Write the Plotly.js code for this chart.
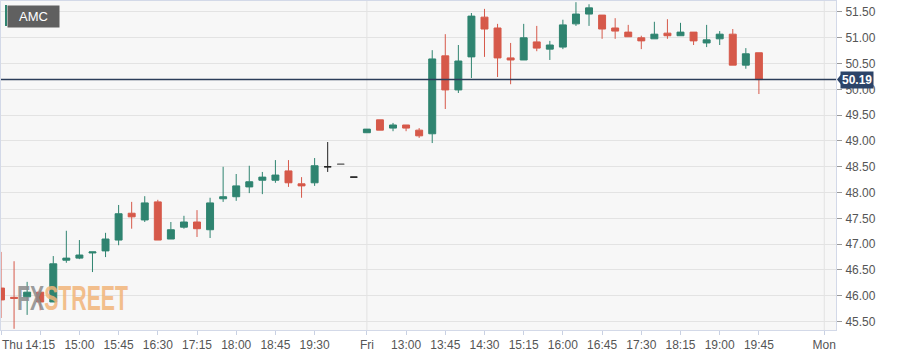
<!DOCTYPE html>
<html>
<head>
<meta charset="utf-8">
<script src="https://cdn.plot.ly/plotly-3.0.1.min.js"></script>
<style>html,body{margin:0;padding:0;background:#fff;}#chart{width:901px;height:356px;}</style>
</head>
<body>
<div id="chart"></div>
<script>
// 15-minute slot index of each candle (Thu 13:30 = 0, Fri session starts at 28)
const slots = [0,1,2,3,4,5,6,7,8,9,10,11,12,13,14,15,16,17,18,19,20,21,22,23,24,25,26,27,
  28,29,30,31,32,33,34,35,36,37,38,39,40,41,42,43,44,45,46,47,48,49,50,51,52,53,54,55,56,57,58];
const openP  = [46.15,45.97,45.98,46.07,45.88,46.69,46.73,46.83,46.87,47.08,47.60,47.47,47.82,47.10,47.33,47.43,47.28,47.88,47.92,48.11,48.24,48.24,48.42,48.17,48.19,48.50,48.55,48.30,
  49.16,49.41,49.25,49.31,49.21,49.14,50.65,49.99,50.63,51.40,51.19,50.61,50.57,50.92,50.78,50.82,51.27,51.46,51.44,51.19,51.11,51.00,50.98,51.09,51.04,51.11,50.90,50.98,51.07,50.47,50.71];
const highP  = [46.85,46.67,46.27,46.11,46.77,47.26,47.08,46.85,47.22,47.76,47.82,47.93,47.86,47.43,47.55,47.66,47.90,48.50,48.36,48.52,48.40,48.63,48.63,48.30,48.67,48.98,48.55,48.30,
  49.23,49.41,49.35,49.31,49.25,50.76,51.07,50.86,51.48,51.56,51.27,50.90,51.27,51.23,50.94,51.35,51.69,51.65,51.44,51.38,51.25,51.04,51.31,51.36,51.29,51.11,51.25,51.13,51.17,50.80,50.71];
const lowP   = [45.57,45.36,45.63,45.72,45.88,46.64,46.71,46.46,46.75,46.98,47.30,47.43,47.08,47.10,47.30,47.14,47.12,47.82,47.84,47.99,47.97,48.19,48.11,47.90,48.13,48.40,48.55,48.30,
  49.16,49.21,49.19,49.19,49.06,48.96,49.62,49.93,50.22,50.63,50.24,50.10,50.57,50.74,50.57,50.78,51.23,51.23,50.98,50.98,51.02,50.78,50.98,50.98,51.04,50.86,50.82,50.86,50.47,50.40,49.91];
const closeP = [45.92,45.95,46.07,45.88,46.62,46.73,46.79,46.85,47.10,47.59,47.53,47.80,47.08,47.28,47.43,47.30,47.80,47.92,48.13,48.21,48.30,48.34,48.19,48.13,48.52,48.50,48.55,48.30,
  49.23,49.21,49.31,49.25,49.10,50.59,49.99,50.55,51.42,51.17,50.61,50.57,51.00,50.80,50.86,51.25,51.46,51.58,51.17,51.13,51.02,50.94,51.07,51.04,51.11,50.94,50.96,51.07,50.47,50.69,50.19];
// flat (no-trade) candles drawn in neutral colours
const flatDark = [25, 27];
const flatGray = [26];
const lastPrice = 50.19;
const tickSlots = [0,3,6,9,12,15,18,21,24,28,31,34,37,40,43,46,49,52,55,58,63];
const tickText  = ['Thu','14:15','15:00','15:45','16:30','17:15','18:00','18:45','19:30','Fri','13:00','13:45','14:30','15:15','16:00','16:45','17:30','18:15','19:00','19:45','Mon'];
const dayStarts = [28, 63];
const symbol = 'AMC';

function pick(ids){
  return {x: ids.map(i=>slots[i]), open: ids.map(i=>openP[i]), high: ids.map(i=>highP[i]),
          low: ids.map(i=>lowP[i]), close: ids.map(i=>closeP[i])};
}
const flatAll = flatDark.concat(flatGray);
const mainIds = slots.map((s,i)=>i).filter(i=>flatAll.indexOf(i)<0);

const GREEN = '#2f8470', RED = '#d6594a';
function cs(ids, upC, dnC, upF, dnF){
  const d = pick(ids);
  return Object.assign(d, {type:'candlestick', hoverinfo:'skip', whiskerwidth:0,
    increasing:{line:{color:upC, width:1}, fillcolor:upF},
    decreasing:{line:{color:dnC, width:1}, fillcolor:dnF}, showlegend:false});
}
const traces = [
  cs(mainIds, GREEN, RED, GREEN, RED),
  cs(flatDark, '#222', '#222', '#222', '#222'),
  cs(flatGray, '#777', '#777', '#777', '#777')
];

const shapes = dayStarts.map(d=>({type:'line', xref:'x', yref:'paper', x0:d, x1:d, y0:0, y1:1,
  line:{color:'#e2e2e2', width:1}, layer:'below'}));
shapes.push({type:'line', xref:'paper', yref:'y', x0:0, x1:1, y0:lastPrice, y1:lastPrice,
  line:{color:'#2c3e5a', width:1.5}});
shapes.push({type:'path', xref:'paper', yref:'y', xsizemode:'pixel', ysizemode:'pixel',
  xanchor:1, yanchor:lastPrice, path:'M 1 0 L 5 -5 L 5 5 Z', fillcolor:'#2c4469', line:{width:0}});
shapes.push({type:'rect', xref:'paper', yref:'paper', x0:4/835, x1:6/835, y0:(330-26)/329, y1:(330-5)/329,
  fillcolor:'#2f8470', line:{width:0}});

// first tick label is left-aligned at the plot edge (as in the reference) instead of centred
const shownTickText = tickText.map((t,i)=> i===0 ? '' : t);

const layout = {
  width:901, height:356,
  margin:{l:1, r:65, t:1, b:26},
  paper_bgcolor:'#ffffff', plot_bgcolor:'#f7f7f7',
  font:{family:'"Liberation Sans", Arial, sans-serif', size:12, color:'#555'},
  boxgap:0.24,
  showlegend:false,
  xaxis:{type:'linear', range:[0, 63.9], rangeslider:{visible:false}, showgrid:false, zeroline:false,
    tickmode:'array', tickvals:tickSlots, ticktext:shownTickText, ticks:'outside', ticklen:4, tickcolor:'#c9d1e3',
    showline:true, linecolor:'#d3d9e8', linewidth:1, mirror:true, tickfont:{size:12, color:'#555'}},
  yaxis:{side:'right', range:[45.337, 51.713], dtick:0.5, tick0:45.5, tickformat:'.2f', showgrid:true,
    gridcolor:'#e3e3e3', gridwidth:1, zeroline:false, ticks:'outside', ticklen:5, tickcolor:'#999',
    showline:true, linecolor:'#d3d9e8', linewidth:1, mirror:true, ticklabelstandoff:1, tickfont:{size:12, color:'#555'}},
  shapes:shapes,
  annotations:[
    {xref:'paper', yref:'paper', x:0, y:0, xanchor:'left', yanchor:'top', xshift:-1, yshift:-6,
     text:tickText[0], showarrow:false, font:{size:12, color:'#555'}},
    {xref:'paper', yref:'y', x:1, y:lastPrice, xanchor:'left', yanchor:'middle', xshift:4,
     text:'<b>'+lastPrice.toFixed(2)+'</b>', showarrow:false, bgcolor:'#2c4469', borderpad:1,
     font:{color:'#ffffff', size:12}},
    {xref:'paper', yref:'paper', x:6/835, y:(330-5)/329, xanchor:'left', yanchor:'top',
     text:symbol, showarrow:false, bgcolor:'#606060', width:51, height:21, borderpad:0, align:'center',
     font:{color:'#ffffff', size:13}},
    {xref:'paper', yref:'paper', x:14/835, y:(330-297)/329, xanchor:'left', yanchor:'middle',
     text:'<span style="fill:#8c8c8c">FX</span><span style="fill:#f2b57a">STREET</span>', showarrow:false,
     opacity:0.85, font:{family:'"Liberation Sans", sans-serif', size:36, weight:700, color:'#f2b57a'}}
  ]
};
Plotly.newPlot('chart', traces, layout, {staticPlot:true, displayModeBar:false}).then(function(gd){
  // squeeze the logo text horizontally to mimic the condensed logotype
  const anns = gd.querySelectorAll('.annotation');
  const logo = anns[anns.length-1];
  if (logo) {
    const t = logo.querySelector('text');
    if (t) {
      const bb = t.getBBox();
      const x0 = bb.x;
      const sx = 111 / bb.width;
      t.setAttribute('transform', 'translate(' + x0 + ',0) scale(' + sx + ',1) translate(' + (-x0) + ',0)');
    }
  }
});
</script>
</body>
</html>
